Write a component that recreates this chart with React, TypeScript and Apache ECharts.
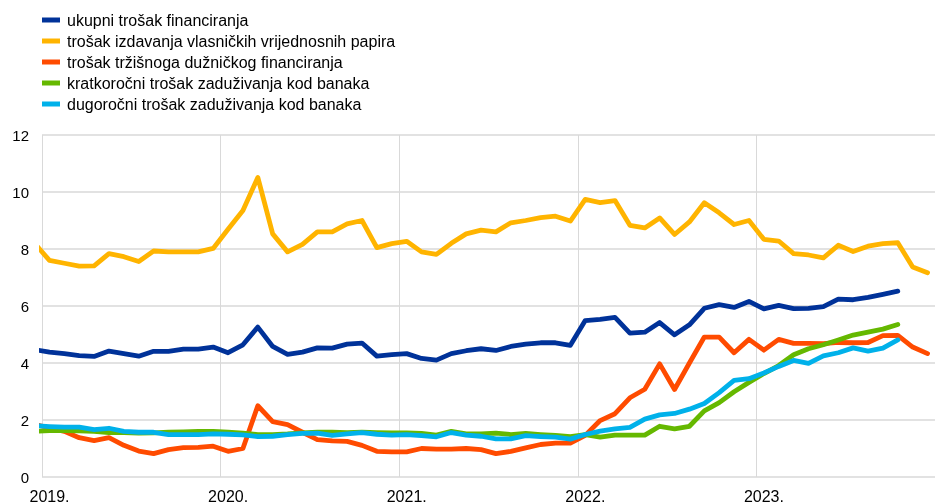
import React, { useEffect, useRef } from "react";
import * as echarts from "echarts";

// Monthly data, first value = Dec 2018, then Jan 2019 onwards
const seriesNames = [
  "ukupni trošak financiranja",
  "trošak izdavanja vlasničkih vrijednosnih papira",
  "trošak tržišnoga dužničkog financiranja",
  "kratkoročni trošak zaduživanja kod banaka",
  "dugoročni trošak zaduživanja kod banaka",
];

const totalCost = [
  4.47,
  4.38, 4.33, 4.26, 4.23, 4.42, 4.33, 4.24, 4.41, 4.41, 4.49, 4.49, 4.56,
  4.36, 4.64, 5.26, 4.58, 4.3, 4.38, 4.53, 4.52, 4.66, 4.7, 4.24, 4.29,
  4.33, 4.16, 4.1, 4.33, 4.43, 4.5, 4.44, 4.58, 4.66, 4.71, 4.71, 4.62,
  5.49, 5.53, 5.6, 5.05, 5.08, 5.42, 4.99, 5.34, 5.92, 6.05, 5.95, 6.16,
  5.9, 6.02, 5.91, 5.92, 5.98, 6.24, 6.22, 6.3, 6.41, 6.52,
];

const equityCost = [
  8.2,
  7.6, 7.5, 7.4, 7.41, 7.84, 7.73, 7.56, 7.93, 7.9, 7.9, 7.9, 8.02,
  8.69, 9.35, 10.51, 8.53, 7.9, 8.16, 8.6, 8.6, 8.88, 9.0, 8.05, 8.19,
  8.27, 7.9, 7.81, 8.2, 8.53, 8.66, 8.6, 8.92, 9.0, 9.1, 9.15, 8.98,
  9.74, 9.63, 9.7, 8.83, 8.74, 9.09, 8.51, 8.95, 9.62, 9.27, 8.86, 9.0,
  8.34, 8.28, 7.84, 7.79, 7.69, 8.13, 7.91, 8.1, 8.19, 8.22, 7.37, 7.17,
];

const debtCost = [
  1.85,
  1.72, 1.6, 1.38, 1.28, 1.38, 1.11, 0.91, 0.82, 0.96, 1.03, 1.04, 1.08,
  0.9, 1.0, 2.5, 1.94, 1.84, 1.57, 1.31, 1.27, 1.25, 1.11, 0.9, 0.88,
  0.88, 1.0, 0.98, 0.98, 1.0, 0.96, 0.82, 0.9, 1.02, 1.14, 1.19, 1.19,
  1.46, 1.98, 2.22, 2.78, 3.08, 3.97, 3.07, 4.0, 4.91, 4.91, 4.36, 4.83,
  4.45, 4.83, 4.69, 4.69, 4.68, 4.72, 4.71, 4.72, 4.96, 4.97, 4.56, 4.33,
];

const shortTermBank = [
  1.6,
  1.63, 1.63, 1.62, 1.6, 1.56, 1.56, 1.54, 1.55, 1.57, 1.58, 1.6, 1.6,
  1.57, 1.54, 1.49, 1.49, 1.51, 1.55, 1.57, 1.57, 1.56, 1.57, 1.56, 1.55,
  1.55, 1.53, 1.47, 1.6, 1.51, 1.51, 1.54, 1.49, 1.53, 1.49, 1.46, 1.42,
  1.49, 1.4, 1.47, 1.47, 1.47, 1.78, 1.69, 1.78, 2.32, 2.61, 2.99, 3.32,
  3.63, 3.91, 4.29, 4.5, 4.64, 4.81, 4.98, 5.08, 5.19, 5.35,
];

const longTermBank = [
  1.8,
  1.77, 1.75, 1.75, 1.66, 1.71, 1.6, 1.57, 1.57, 1.49, 1.49, 1.49, 1.51,
  1.5, 1.48, 1.42, 1.43, 1.49, 1.53, 1.54, 1.46, 1.51, 1.56, 1.5, 1.47,
  1.49, 1.45, 1.41, 1.56, 1.47, 1.43, 1.34, 1.34, 1.45, 1.42, 1.4, 1.33,
  1.49, 1.61, 1.69, 1.74, 2.03, 2.18, 2.23, 2.38, 2.58, 2.96, 3.39, 3.45,
  3.65, 3.88, 4.09, 3.99, 4.25, 4.36, 4.53, 4.42, 4.52, 4.81,
];

const yearLabels = ["2019.", "2020.", "2021.", "2022.", "2023."];
const colors = ["#003299", "#FFB400", "#FF4B00", "#65B800", "#00B1EA"];

const FONT = '"Liberation Sans", Arial, sans-serif';

// month offset: index 0 = Dec 2018 -> mid-month position -0.5
const toPoints = (vals: number[]) => vals.map((v, i) => [i - 0.5, v]);

export default function App() {
  const ref = useRef<HTMLDivElement>(null);
  useEffect(() => {
    if (!ref.current) return;
    const chart = echarts.init(ref.current, null, { renderer: "svg" });
    const all = [totalCost, equityCost, debtCost, shortTermBank, longTermBank];
    chart.setOption({
      animation: false,
      color: colors,
      legend: {
        orient: "vertical",
        left: 42,
        top: 12,
        padding: 0,
        itemWidth: 18,
        itemHeight: 5,
        itemGap: 5,
        icon: "rect",
        textStyle: {
          fontSize: 16,
          color: "#000",
          fontFamily: FONT,
          lineHeight: 16,
          padding: [0, 0, 0, 2],
        },
        data: seriesNames,
      },
      grid: { left: 42, top: 135, width: 902, height: 344.5 },
      xAxis: {
        type: "value",
        min: 0,
        max: 60,
        interval: 12,
        axisLine: { show: false },
        axisTick: { show: false },
        splitLine: { show: true, lineStyle: { color: "#d9d9d9", width: 1 } },
        axisLabel: {
          fontSize: 16,
          color: "#000",
          fontFamily: FONT,
          margin: 11,
          padding: [0, 0, 0, 15],
          showMaxLabel: false,
          formatter: (v: number) => yearLabels[Math.round(v / 12)] ?? "",
        },
      },
      yAxis: {
        type: "value",
        min: 0,
        max: 12,
        interval: 2,
        axisLine: { show: false },
        axisTick: { show: false },
        splitLine: { show: true, lineStyle: { color: "#d9d9d9", width: 1.5 } },
        axisLabel: { fontSize: 15, color: "#000", fontFamily: FONT, margin: 13 },
      },
      series: all.map((vals, i) => ({
        name: seriesNames[i],
        type: "line",
        data: toPoints(vals),
        showSymbol: false,
        symbol: "none",
        clip: true,
        lineStyle: { width: 4.8, color: colors[i], cap: "round", join: "round" },
        itemStyle: { color: colors[i] },
      })),
    });
    return () => chart.dispose();
  }, []);
  return (
    <div
      ref={ref}
      style={{ position: "fixed", left: 0, top: 0, width: 935, height: 504 }}
    />
  );
}
